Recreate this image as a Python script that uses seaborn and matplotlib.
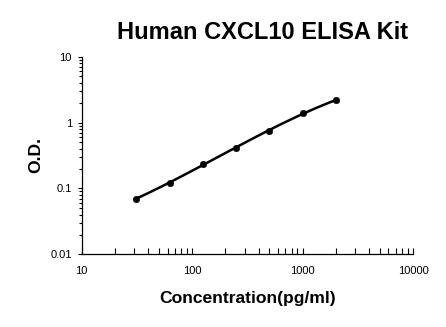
import numpy as np
import pandas as pd
import matplotlib
matplotlib.use("Agg")
import matplotlib.pyplot as plt
import seaborn as sns
from matplotlib.ticker import LogLocator, FixedLocator, FixedFormatter, NullFormatter

# standard curve readings
concentration = [31.25, 62.5, 125, 250, 500, 1000, 2000]
od = [0.070, 0.122, 0.232, 0.415, 0.75, 1.39, 2.17]
x_ticks = [10, 100, 1000, 10000]
x_labels = ["10", "100", "1000", "10000"]
y_ticks = [0.01, 0.1, 1, 10]
y_labels = ["0.01", "0.1", "1", "10"]

sns.set_style("white")
plt.rcParams["font.family"] = ["Liberation Sans", "DejaVu Sans"]
plt.rcParams["text.color"] = "black"
plt.rcParams["axes.labelcolor"] = "black"

frame = pd.DataFrame({"Concentration": concentration, "OD": od})

# smooth fit in log-log space, like the kit's fitted curve
coef = np.polyfit(np.log10(frame["Concentration"]), np.log10(frame["OD"]), 3)
grid = np.logspace(np.log10(concentration[0]), np.log10(concentration[-1]), 200)
fit = pd.DataFrame({"Concentration": grid,
                    "OD": 10 ** np.polyval(coef, np.log10(grid))})

fig = plt.figure(figsize=(4.46, 3.27), dpi=100)
ax = fig.add_axes([0.183, 0.222, 0.743, 0.605])

sns.lineplot(data=fit, x="Concentration", y="OD", color="black", lw=1.8, ax=ax)
sns.scatterplot(data=frame, x="Concentration", y="OD", color="black", s=22,
                edgecolor="black", zorder=3, ax=ax)

ax.set_xscale("log")
ax.set_yscale("log")
ax.set_xlim(10, 10000)
ax.set_ylim(0.01, 10)

ax.xaxis.set_major_locator(FixedLocator(x_ticks))
ax.xaxis.set_major_formatter(FixedFormatter(x_labels))
ax.yaxis.set_major_locator(FixedLocator(y_ticks))
ax.yaxis.set_major_formatter(FixedFormatter(y_labels))
ax.xaxis.set_minor_locator(LogLocator(base=10, subs=np.arange(2, 10)))
ax.yaxis.set_minor_locator(LogLocator(base=10, subs=np.arange(2, 10)))
ax.xaxis.set_minor_formatter(NullFormatter())
ax.yaxis.set_minor_formatter(NullFormatter())

ax.tick_params(axis="x", which="both", direction="in", length=4, width=0.8,
               bottom=True, labelsize=8, pad=8, colors="black")
ax.tick_params(axis="y", which="major", direction="out", length=3, width=0.8,
               left=True, labelsize=8, pad=4, colors="black")
ax.tick_params(axis="y", which="minor", direction="out", length=2, width=0.8,
               left=True, colors="black")

for side in ("top", "right"):
    ax.spines[side].set_visible(False)
for side in ("left", "bottom"):
    ax.spines[side].set_color("black")
    ax.spines[side].set_linewidth(0.9)

ax.set_xlabel("Concentration(pg/ml)", fontsize=12.6, fontweight="bold",
              labelpad=11, color="black")
ax.set_ylabel("O.D.", fontsize=12.6, fontweight="bold", labelpad=5,
              color="black")
fig.text(0.588, 0.902, "Human CXCL10 ELISA Kit", fontsize=17,
         fontweight="bold", ha="center", va="center", color="black")

fig.savefig("out.png", dpi=100)
